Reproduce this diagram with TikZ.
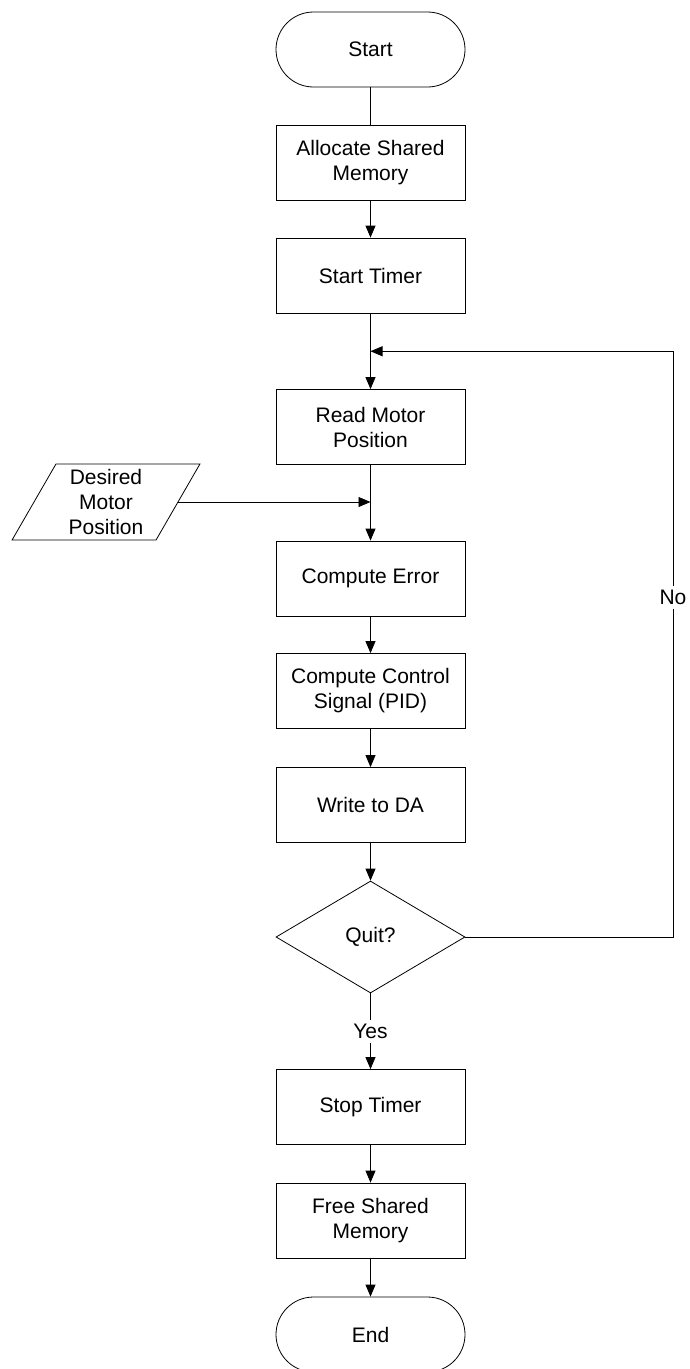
\documentclass[tikz,border=0pt]{standalone}
\usepackage{fontspec}
\setmainfont{Liberation Sans}
\usepackage{tikz}
\usetikzlibrary{calc,arrows.meta,shapes.geometric}
\tikzset{
  process/.style={draw, line width=0.8pt, minimum width=189pt, minimum height=75pt, inner sep=0pt, align=center},
  terminal/.style={process, rounded corners=37.5pt},
  decision/.style={draw, diamond, line width=0.8pt, minimum width=189pt, minimum height=112pt, inner sep=0pt, align=center},
  inout/.style={draw, trapezium, trapezium left angle=63.4, trapezium right angle=116.6, trapezium stretches=true, line width=0.8pt, minimum width=188pt, minimum height=76pt, inner sep=0pt, align=center},
  flow/.style={line width=0.8pt, -{Triangle[length=12pt,width=10pt]}},
  plainflow/.style={line width=0.8pt},
  lab/.style={fill=white, inner sep=4pt},
}

\begin{document}
\begin{tikzpicture}[x=1pt, y=-1pt, font=\fontsize{21}{25}\selectfont]
\useasboundingbox (0,0) rectangle (689,1369);
% main column
\node[terminal] (start) at (370.5,49.5) {Start};
\node[process] (alloc) at (370.5,162.5) {Allocate Shared\\Memory};
\node[process] (starttimer) at (370.5,275.5) {Start Timer};
\node[process] (read) at (370.5,427) {Read Motor\\Position};
\node[process] (error) at (370.5,578.5) {Compute Error};
\node[process] (control) at (370.5,691) {Compute Control\\Signal (PID)};
\node[process] (writeda) at (370.5,805) {Write to DA};
\node[decision] (quit) at (370.5,937) {Quit?};
\node[process] (stoptimer) at (370.5,1107) {Stop Timer};
\node[process] (free) at (370.5,1220.5) {Free Shared\\Memory};
\node[terminal] (finish) at (370.5,1334.5) {End};

% setpoint input
\node[inout] (desired) at (106,502) {Desired\\Motor\\Position};

\coordinate (loop) at ($(starttimer.south)!0.5!(read.north)$);
\coordinate (back) at (673,0 |- loop);
\coordinate (merge) at (desired.east -| read.south);

\draw[plainflow] (start) -- (alloc);
\draw[flow] (alloc) -- (starttimer);
\draw[flow] (starttimer) -- (read);
\draw[flow] (read) -- (error);
\draw[flow] (desired.east) -- (merge);
\draw[flow] (error) -- (control);
\draw[flow] (control) -- (writeda);
\draw[flow] (writeda) -- (quit);
\draw[flow] (quit) -- node[lab] {Yes} (stoptimer);
\draw[flow] (quit.east) -| node[lab, pos=0.79] {No} (back) -- (loop);
\draw[flow] (stoptimer) -- (free);
\draw[flow] (free) -- (finish);
\end{tikzpicture}
\end{document}
